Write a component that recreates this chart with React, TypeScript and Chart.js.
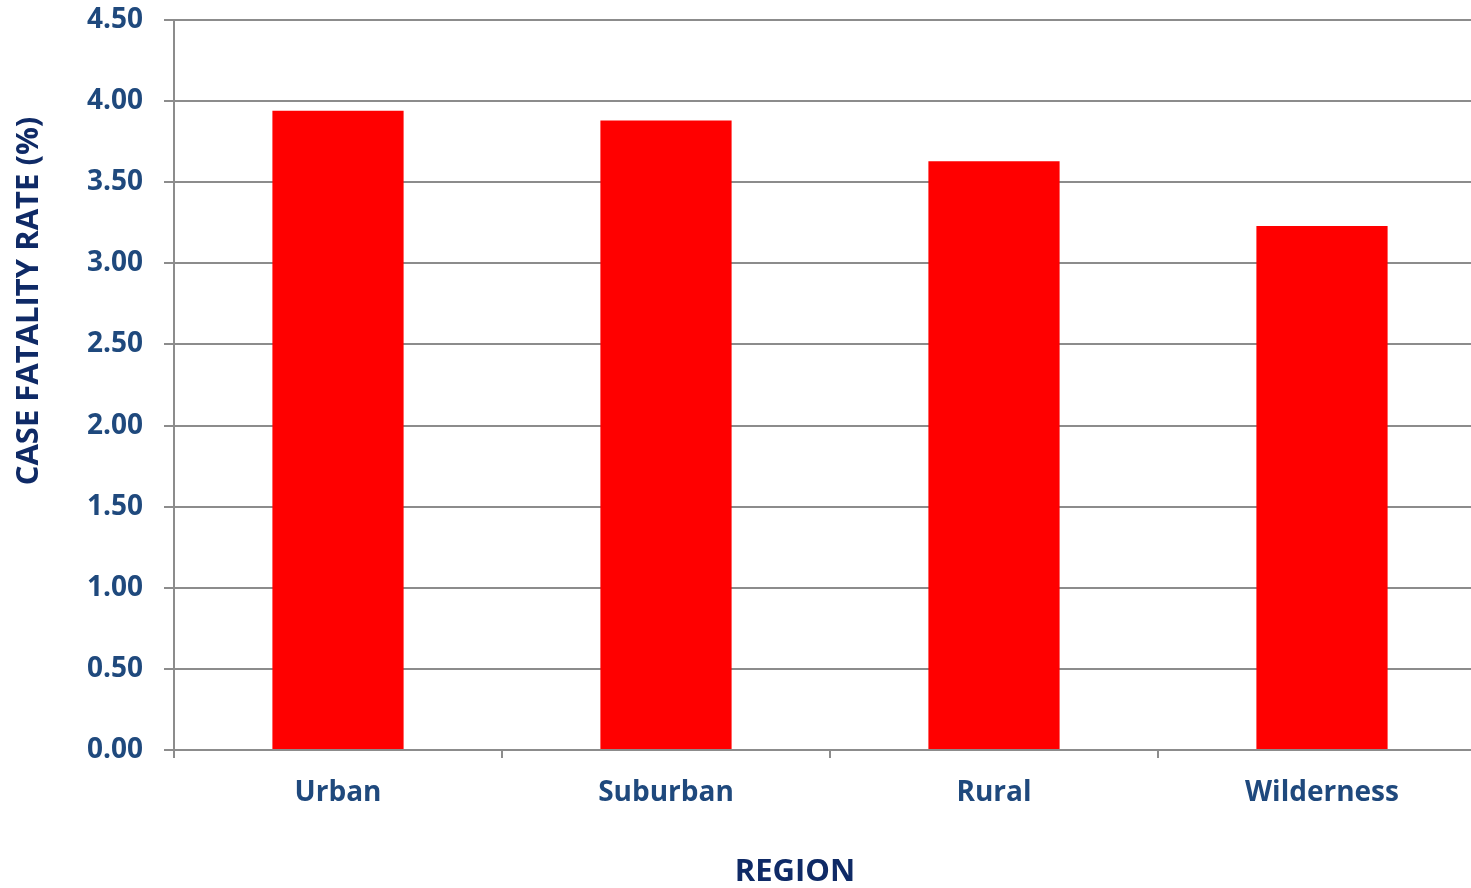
import React, { useEffect, useRef } from "react";
import { Chart, registerables } from "chart.js";

Chart.register(...registerables);

const categories = ["Urban", "Suburban", "Rural", "Wilderness"];
const fatalityRates = [3.94, 3.88, 3.63, 3.23];
const yTicks = [0, 0.5, 1, 1.5, 2, 2.5, 3, 3.5, 4, 4.5];
const xTitle = "REGION";
const yTitle = "CASE FATALITY RATE (%)";

export default function App() {
  const ref = useRef<HTMLCanvasElement | null>(null);

  useEffect(() => {
    document.body.style.margin = "0";
    const canvas = ref.current;
    if (!canvas) return;
    const grid = "#8c8c8c";
    const tickColor = "#1f497d";
    const titleColor = "#0f2a66";
    const font = "'Open Sans', 'Noto Sans', sans-serif";

    const titlesPlugin = {
      id: "axisTitles",
      afterDraw(c: any) {
        const ctx = c.ctx;
        ctx.save();
        ctx.fillStyle = titleColor;
        ctx.font = `bold 31px ${font}`;
        ctx.textAlign = "center";
        ctx.textBaseline = "middle";
        ctx.translate(29, 301);
        ctx.rotate(-Math.PI / 2);
        ctx.fillText(yTitle, 0, 0);
        ctx.restore();
        ctx.save();
        ctx.fillStyle = titleColor;
        ctx.font = `bold 31px ${font}`;
        ctx.textAlign = "center";
        ctx.textBaseline = "middle";
        ctx.fillText(xTitle, 795, 872);
        ctx.restore();
      },
    };

    const chart = new Chart(canvas, {
      type: "bar",
      data: {
        labels: categories,
        datasets: [
          {
            label: "Case fatality rate",
            data: fatalityRates,
            backgroundColor: "#ff0000",
            borderWidth: 0,
            barPercentage: 0.4,
            categoryPercentage: 1,
          },
        ],
      },
      options: {
        animation: false,
        responsive: false,
        maintainAspectRatio: false,
        layout: { padding: { top: 20, right: 0, bottom: 0, left: 0 } },
        plugins: { legend: { display: false }, tooltip: { enabled: false } },
        scales: {
          x: {
            offset: true,
            grid: {
              offset: true,
              drawOnChartArea: false,
              drawTicks: true,
              tickLength: 8,
              color: grid,
              lineWidth: 2,
            },
            border: { color: grid, width: 2 },
            ticks: {
              color: tickColor,
              font: { family: font, size: 28, weight: "bold" },
              padding: 18,
            },
            afterFit: (s: any) => {
              s.height = 138;
              s.paddingLeft = 0;
              s.paddingRight = 0;
            },
          },
          y: {
            min: 0,
            max: 4.5,
            afterBuildTicks: (s: any) => {
              s.ticks = yTicks.map((v) => ({ value: v }));
            },
            grid: {
              color: grid,
              lineWidth: 2,
              drawTicks: true,
              tickLength: 10,
            },
            border: { color: grid, width: 2 },
            ticks: {
              color: tickColor,
              font: { family: font, size: 28, weight: "bold" },
              padding: 21,
              callback: (v: any) => Number(v).toFixed(2),
            },
            afterFit: (s: any) => {
              s.width = 174;
              s.paddingTop = 0;
              s.paddingBottom = 0;
            },
          },
        },
      },
      plugins: [titlesPlugin],
    });
    return () => chart.destroy();
  }, []);

  return (
    <div style={{ width: 1471, height: 888, overflow: "hidden", background: "#fff" }}>
      <canvas ref={ref} width={1486} height={888} style={{ display: "block" }} />
    </div>
  );
}
